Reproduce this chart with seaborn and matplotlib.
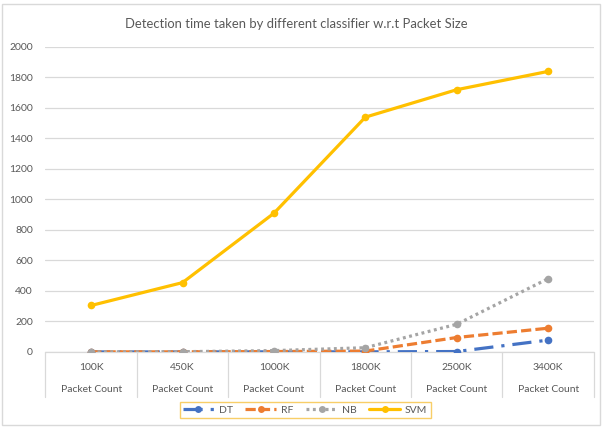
import matplotlib
matplotlib.use("Agg")
import matplotlib.pyplot as plt
import matplotlib.transforms as mtransforms
from matplotlib.patches import Rectangle
from matplotlib.lines import Line2D
import seaborn as sns
import pandas as pd

categories = ["100K", "450K", "1000K", "1800K", "2500K", "3400K"]
sub_label = "Packet Count"
dt = [0.5, 0.5, 1, 1, 3, 78]
rf = [1, 1, 3, 6, 95, 156]
nb = [1, 2, 9, 28, 182, 481]
svm = [305, 455, 910, 1540, 1720, 1840]
series_names = ["DT", "RF", "NB", "SVM"]
yticks = list(range(0, 2001, 200))
title = "Detection time taken by different classifier w.r.t Packet Size"

rows = []
for name, vals in zip(series_names, [dt, rf, nb, svm]):
    for c, v in zip(categories, vals):
        rows.append({"Packet": c, "Time": v, "Classifier": name})
df = pd.DataFrame(rows)

sns.set_theme(style="white")
plt.rcParams["font.family"] = ["Lato", "DejaVu Sans"]

fig = plt.figure(figsize=(6.02, 4.28), dpi=100)
ax = fig.add_axes([0.0755, 0.1776, 0.911, 0.7126])

palette = {"DT": "#4472C4", "RF": "#ED7D31", "NB": "#A5A5A5", "SVM": "#FFC000"}
dashes = {"DT": (6, 2.5, 1, 2.5), "RF": (3.2, 1.3), "NB": (0.9, 1.1), "SVM": ""}

sns.lineplot(data=df, x="Packet", y="Time", hue="Classifier", style="Classifier",
             palette=palette, dashes=dashes, markers={k: "o" for k in series_names},
             markersize=5.5, markeredgewidth=0, linewidth=2.3, sort=False, ax=ax,
             legend=False, zorder=3)

ax.set_xlim(-0.5, len(categories) - 0.5)
ax.set_ylim(0, 2000)
ax.set_yticks(yticks)
ax.set_yticklabels([str(t) for t in yticks], fontsize=7.5, color="#595959")
ax.yaxis.grid(True, color="#D9D9D9", linewidth=0.9)
ax.set_axisbelow(True)
for s in ax.spines.values():
    s.set_visible(False)
ax.tick_params(axis="y", length=0, pad=9)
ax.set_xlabel("")
ax.set_ylabel("")
ax.set_xticks(range(len(categories)))
ax.set_xticklabels([f"{c}\n\n{sub_label}" for c in categories], fontsize=7.5,
                   color="#595959", linespacing=1.25)
ax.tick_params(axis="x", length=0, pad=8)

# category table lines
trans = mtransforms.blended_transform_factory(ax.transData, ax.transAxes)
bottom = -0.148
for b in [i - 0.5 for i in range(len(categories) + 1)]:
    ax.plot([b, b], [0, bottom], transform=trans, color="#D9D9D9", lw=0.9,
            clip_on=False, zorder=1)
ax.plot([-0.5, len(categories) - 0.5], [0, 0], transform=trans, color="#D9D9D9",
        lw=0.9, clip_on=False, zorder=2)

fig.text(0.493, 1 - 24 / 428, title, fontsize=9.4, color="#595959",
         ha="center", va="center")

# legend
handles = []
for name in series_names:
    ls = (0, dashes[name]) if dashes[name] else "-"
    handles.append(Line2D([0], [0], color=palette[name], lw=2.3, linestyle=ls,
                          marker="o", markersize=5, markeredgewidth=0))
leg = fig.legend(handles, series_names, loc="center", ncol=4,
                 bbox_to_anchor=(305 / 602, 1 - 410 / 428), frameon=True,
                 fontsize=7.5, handlelength=3.0, columnspacing=1.2,
                 borderpad=0.3, fancybox=False, handletextpad=0.45)
leg.get_frame().set_edgecolor("#F7C242")
leg.get_frame().set_linewidth(1.0)
for t in leg.get_texts():
    t.set_color("#595959")

# chart border
fig.patches.append(Rectangle((0.004, 0.006), 0.992, 0.985, transform=fig.transFigure,
                             fill=False, edgecolor="#D9D9D9", lw=1.0))

fig.savefig("out.png", dpi=100)
